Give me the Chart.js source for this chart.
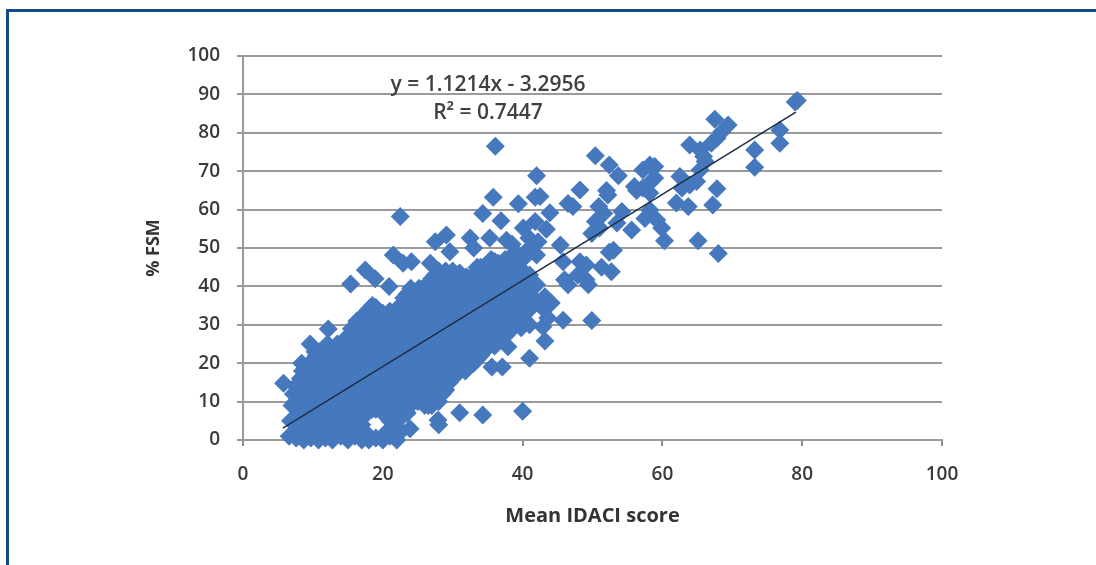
<!DOCTYPE html>
<html>
<head>
<meta charset="utf-8">
<title>% FSM against mean IDACI score</title>
<script src="https://cdn.jsdelivr.net/npm/chart.js@4"></script>
<style>
  html, body { margin: 0; padding: 0; background: #fff; overflow: hidden; }
  #frame { position: absolute; left: 6px; top: 9px; width: 1100px; height: 570px; border: 3px solid #124c88; border-right: none; box-sizing: border-box; }
  #wrap { position: absolute; left: 0; top: 0; width: 1096px; height: 565px; filter: blur(0.5px); }
</style>
</head>
<body>
<div id="frame"></div>
<div id="wrap"><canvas id="fsmChart" width="1096" height="565"></canvas></div>
<script>
const xTicks = [0, 20, 40, 60, 80, 100];
const yTicks = [0, 10, 20, 30, 40, 50, 60, 70, 80, 90, 100];
const equationLines = ['y = 1.1214x - 3.2956', 'R² = 0.7447'];

const trendX = [5.7, 79.1];
const trendY = [3.1, 85.4];

// points, left to right
const lowBand = [
  [5.8,14.8],[6.6,1],[6.8,5],[7,9],[7.2,12],
  [7.6,0.5],[7.8,4],[8,8],[8.1,12],[8.2,16],[8.4,20],
  [8.7,0],[8.8,3.5],[9,7],[9,11],[9,15],[9.1,18],
  [9.6,25],[9.7,0.5],[9.8,5],[10,9],[10,13],[10,17],[10.1,21],[10.3,23],
  [10.8,0],[10.9,4],[11,8],[11,12],[11,16],[11,20],[11,23],
  [11.8,0.5],[12,5],[12,9],[12,13],[12,17],[12,21],[12.1,25],[12.2,28.9],
  [12.8,0],[13,3.5],[13,7.5],[13,11.5],[13,15.5],[13,19.5],[13,23],
  [14,1],[14,5],[14,9],[14,13],[14,17],[14,21],[14,24.5],
  [15,0],[15,3.5],[15,7.5],[15,11.5],[15,15.5],[15,19.5],[15,23.5],[15,27],
  [15.4,40.6],[16,1],[16,5],[16,9],[16,13],[16,17],[16,21],[16,25],[16,29],[16.3,31]
];

const midBand = [
  [17,0],[17,4],[17,8],[17,12],[17,16],[17,20],[17,24],[17,28],[17,32],
  [17.5,44.3],[18,0],[18,7.5],[18,10],[18,14],[18,18],[18,22],[18,26],[18,30],[18,34],
  [18.9,42],[19,0.5],[19,8],[19,12],[19,16],[19,20],[19,24],[19,28],[19,32],[19,34.5],
  [20,0],[20,7],[20,10],[20,14],[20,18],[20,22],[20,26],[20,30],[20,33],[20.9,40],
  [21,1],[21,5],[21,8],[21,12],[21,16],[21,20],[21,24],[21,28],[21,32],[21,33.5],
  [21.5,48.2],[22,0],[22,3.5],[22,7],[22,10],[22,14],[22,18],[22,22],[22,26],[22,30],[22,34],
  [22.5,58.2],[22.9,46],[23,6.5],[23,9],[23,13],[23,17],[23,21],[23,25],[23,29],[23,33],[23,37],
  [23.9,2.9],[24,10],[24,12],[24,16],[24,20],[24,24],[24,28],[24,32],[24,36],[24,39.5],[24.1,46.4],
  [25,10],[25,14],[25,18],[25,22],[25,26],[25,30],[25,34],[25,38],[25.2,39.5],
  [26,9],[26,13],[26,17],[26,21],[26,25],[26,29],[26,33],[26,37],[26,40],[26.8,46],
  [27,9],[27,12],[27,16],[27,20],[27,24],[27,28],[27,32],[27,36],[27,40],[27,42],
  [27.5,51.6],[27.9,5.2],[28,4],[28,10],[28,14],[28,18],[28,22],[28,26],[28,30],[28,34],[28,38],[28,42],[28,44]
];

const highBand = [
  [29,13],[29,17],[29,21],[29,25],[29,29],[29,33],[29,37],[29,41],[29,44],[29.1,53.4],[29.6,49],
  [30,16],[30,20],[30,24],[30,28],[30,32],[30,36],[30,40],[30,44],
  [31,7.1],[31,18],[31,22],[31,26],[31,30],[31,34],[31,38],[31,42],[31,43.5],
  [31.8,18],[32,20],[32,24],[32,28],[32,32],[32,36],[32,40],[32,42.5],[32.5,52.6],
  [33,20],[33,23],[33,27],[33,31],[33,35],[33,39],[33,43],[33,50],
  [34,22],[34,26],[34,30],[34,34],[34,38],[34,42],[34,45],[34.3,6.5],[34.3,59],
  [35,24],[35,28],[35,32],[35,36],[35,40],[35,44],[35,45.5],[35.3,52.6],
  [35.6,19],[36,24.5],[36,29],[36,33],[36,37],[36,41],[36,45],[36,46.5],[36.1,76.5],[35.8,63.2],
  [37,26],[37,30],[37,34],[37,38],[37,42],[37,46],[37.1,19],[36.9,57.1],
  [37.7,52],[37.9,24.3],[38,28],[38,32],[38,36],[38,40],[38,44],[38,47],[38.5,51],
  [39,30],[39,34],[39,38],[39,42],[39,46],[39.4,61.5],[39,49],[39.8,29.2],
  [40,7.5],[40,32],[40,36],[40,40],[40,44],[40,47],[40.1,55.2]
];

const scatterBand = [
  [40.9,52.6],[41,50],[41,21.3],[41,30],[41,34],[41,38],[41,43],[41.8,63.2],[41.8,56.9],
  [42,40.4],[42,48.2],[42,36],[42,68.8],[42.2,51.6],[42.5,63.4],[42.9,34.3],[42.9,29.5],
  [43.2,37.3],[43.2,25.8],[43.4,54.9],[43.6,31.8],[43.9,59.2],[44.1,35.7],
  [45.4,50.8],[45.8,46.4],[45.8,31.2],[46,41.7],[46.5,40.4],[46.5,61.6],[47.2,60.8],
  [47.9,43],[48.2,46.4],[48.2,65.1],[49.1,45.6],[49.1,41.7],[49.4,40.4],[49.9,53.8],[49.9,31.1],
  [50.4,56.9],[50.4,74],[50.9,60.8],[51,55.2],[51.3,45],[51.6,59],[52,65],[52.2,63.8],
  [52.4,71.6],[52.7,43.8],[53,49.4],[52.4,48.9],[53.5,56.5],[53.7,68.8],[54.2,59.5],[55.6,54.7],
  [56,66],[56.3,65],[57.2,65.6],[57.2,70.3],[57.5,57.7],[58.2,71.6],[58.2,67],[58.2,64.3],[58.2,59.9],
  [58.9,71.2],[58.9,68.2],[59.2,57.3],[59.9,55.2],[60.3,51.9]
];

// the packed part of the cloud, in between the columns above
const denseBand = [
  [7.5,2],[7.5,6],[7.5,10],[7.5,14],
  [8.5,2],[8.5,6],[8.5,10],[8.5,14],[8.5,18],
  [9.5,2],[9.5,7],[9.5,11],[9.5,15],[9.5,19],
  [10.5,2],[10.5,6],[10.5,11],[10.5,15],[10.5,19],[10.5,22],
  [11.5,2],[11.5,6],[11.5,10],[11.5,14],[11.5,18],[11.5,22],
  [12.5,2],[12.5,7],[12.5,11],[12.5,15],[12.5,19],[12.5,23],
  [13.5,2],[13.5,6],[13.5,10],[13.5,14],[13.5,18],[13.5,22],[13.5,25],
  [14.5,3],[14.5,7],[14.5,11],[14.5,15],[14.5,19],[14.5,23],[14.5,26],
  [15.5,2],[15.5,6],[15.5,10],[15.5,14],[15.5,18],[15.5,22],[15.5,26],[15.5,29],
  [16.5,3],[16.5,7],[16.5,11],[16.5,15],[16.5,19],[16.5,23],[16.5,27],[16.5,31],
  [17.5,2],[17.5,6.5],[17.5,10],[17.5,14],[17.5,18],[17.5,22],[17.5,26],[17.5,30],[17.5,33],
  [18.5,8],[18.5,12],[18.5,16],[18.5,20],[18.5,24],[18.5,28],[18.5,32],[18.5,35],
  [19.5,8],[19.5,10],[19.5,14],[19.5,18],[19.5,22],[19.5,26],[19.5,30],[19.5,33],
  [20.5,2],[20.5,8],[20.5,12],[20.5,16],[20.5,20],[20.5,24],[20.5,28],[20.5,32],
  [21.5,3],[21.5,7],[21.5,10],[21.5,14],[21.5,18],[21.5,22],[21.5,26],[21.5,30],[21.5,33],
  [22.5,2],[22.5,8],[22.5,11],[22.5,15],[22.5,19],[22.5,23],[22.5,27],[22.5,31],[22.5,35],
  [23.5,7],[23.5,11],[23.5,14],[23.5,18],[23.5,22],[23.5,26],[23.5,30],[23.5,34],[23.5,38],
  [24.5,10],[24.5,14],[24.5,18],[24.5,22],[24.5,26],[24.5,30],[24.5,34],[24.5,38],
  [25.5,10],[25.5,12],[25.5,16],[25.5,20],[25.5,24],[25.5,28],[25.5,32],[25.5,36],[25.5,39],
  [26.5,9],[26.5,11],[26.5,15],[26.5,19],[26.5,23],[26.5,27],[26.5,31],[26.5,35],[26.5,39],
  [27.5,10],[27.5,14],[27.5,18],[27.5,22],[27.5,26],[27.5,30],[27.5,34],[27.5,38],[27.5,41],[27.5,43],
  [28.5,12],[28.5,16],[28.5,20],[28.5,24],[28.5,28],[28.5,32],[28.5,36],[28.5,40],[28.5,43],
  [29.5,15],[29.5,19],[29.5,23],[29.5,27],[29.5,31],[29.5,35],[29.5,39],[29.5,43],
  [30.5,17],[30.5,20],[30.5,24],[30.5,28],[30.5,32],[30.5,36],[30.5,40],[30.5,43],
  [31.5,20],[31.5,24],[31.5,28],[31.5,32],[31.5,36],[31.5,40],[31.5,42],
  [32.5,20],[32.5,22],[32.5,26],[32.5,30],[32.5,34],[32.5,38],[32.5,42],
  [33.5,21],[33.5,25],[33.5,29],[33.5,33],[33.5,37],[33.5,41],[33.5,45],
  [34.5,26.5],[34.5,31],[34.5,35],[34.5,39],[34.5,43],[34.5,45],
  [35.5,25],[35.5,29],[35.5,33],[35.5,37],[35.5,41],[35.5,45],[35.5,47],
  [36.5,26],[36.5,30],[36.5,34],[36.5,38],[36.5,42],[36.5,46],
  [37.5,27],[37.5,31],[37.5,35],[37.5,39],[37.5,43],[37.5,47],
  [38.5,29],[38.5,33],[38.5,37],[38.5,41],[38.5,45],[38.5,48],
  [39.5,33],[39.5,37],[39.5,41],[39.5,45]
];

const topEnd = [
  [62,61.7],[62.5,68.6],[62.8,65.6],[63.7,60.8],[63.9,76.8],[63.9,66.4],[64.9,67.3],
  [65.1,51.9],[65.4,75.5],[65.4,70.3],[65.9,73.8],[66.1,72.5],[67,77.3],[67.2,61.2],
  [67.5,83.5],[67.8,78.6],[67.8,65.4],[68,48.6],[68.5,80.3],[69.4,82],
  [73.2,75.5],[73.2,71],[76.8,80.7],[76.8,77.3],[79,88],[79.3,88.4]
];

const equationLabel = {
  id: 'equationLabel',
  afterDatasetsDraw(chart) {
    const ctx = chart.ctx;
    ctx.save();
    ctx.fillStyle = '#404040';
    ctx.textAlign = 'center';
    ctx.textBaseline = 'middle';
    ctx.font = '600 21px "Open Sans"';
    ctx.fillText(equationLines[0], 488, 85);
    ctx.fillText(equationLines[1], 488, 113);
    ctx.restore();
  }
};

const toPoints = pairs => pairs.map(p => ({ x: p[0], y: p[1] }));

new Chart(document.getElementById('fsmChart'), {
  type: 'scatter',
  data: {
    datasets: [
      {
        type: 'line',
        label: 'Linear (% FSM)',
        data: trendX.map((x, i) => ({ x: x, y: trendY[i] })),
        borderColor: '#1e2f48',
        borderWidth: 1.6,
        pointRadius: 0,
        fill: false,
        order: 0
      },
      {
        label: '% FSM',
        data: toPoints(lowBand.concat(denseBand, midBand, highBand, scatterBand, topEnd)),
        pointStyle: 'rectRot',
        pointRadius: 9.5,
        pointHoverRadius: 9.5,
        backgroundColor: '#4678be',
        borderWidth: 0,
        clip: false,
        order: 1
      }
    ]
  },
  options: {
    responsive: false,
    animation: false,
    layout: { padding: { top: 56, right: 154, left: 0, bottom: 0 } },
    plugins: { legend: { display: false }, tooltip: { enabled: false } },
    scales: {
      x: {
        type: 'linear',
        min: 0,
        max: 100,
        afterFit(scale) { scale.height = 125; },
        afterBuildTicks(scale) { scale.ticks = xTicks.map(v => ({ value: v })); },
        grid: { drawOnChartArea: false, color: '#8e8e8e', tickLength: 6, lineWidth: 2 },
        border: { color: '#9a9a9a', width: 2 },
        ticks: { color: '#3a3a3a', font: { family: '"Open Sans"', size: 19, weight: '600' }, padding: 17, maxRotation: 0 },
        title: {
          display: true,
          text: 'Mean IDACI score',
          color: '#333',
          font: { family: '"Open Sans"', size: 20, weight: '700' },
          padding: { top: 0, bottom: 37 }
        }
      },
      y: {
        type: 'linear',
        min: 0,
        max: 100,
        afterFit(scale) { scale.width = 243; },
        afterBuildTicks(scale) { scale.ticks = yTicks.map(v => ({ value: v })); },
        grid: { color: '#9a9a9a', tickLength: 6, lineWidth: 2 },
        border: { color: '#9a9a9a', width: 2 },
        ticks: { color: '#3a3a3a', font: { family: '"Open Sans"', size: 19, weight: '600' }, padding: 17 },
        title: {
          display: true,
          text: '% FSM',
          color: '#333',
          font: { family: '"Open Sans"', size: 18, weight: '700' },
          padding: { top: 143, bottom: 0 }
        }
      }
    }
  },
  plugins: [equationLabel]
});
</script>
</body>
</html>
